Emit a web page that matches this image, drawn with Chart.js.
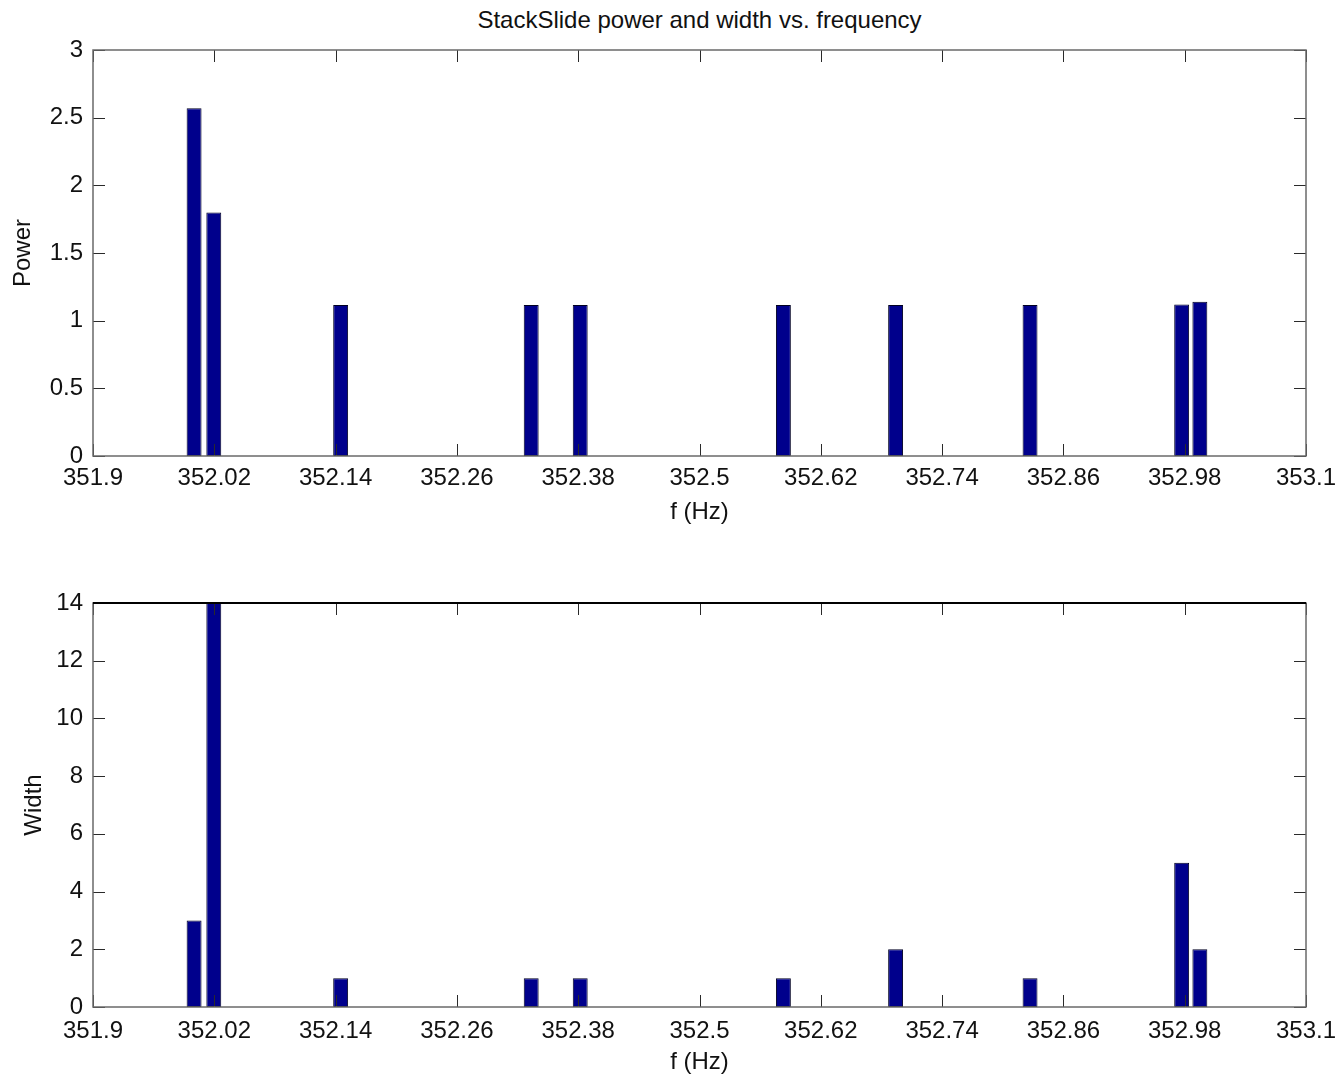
<!DOCTYPE html>
<html>
<head>
<meta charset="utf-8">
<script src="https://cdn.jsdelivr.net/npm/chart.js@4/dist/chart.umd.min.js"></script>
<style>
  html, body { margin: 0; padding: 0; background: #fff; }
  #wrap { position: relative; width: 1343px; height: 1079px; overflow: hidden; background: #fff; }
  canvas { position: absolute; left: 0; }
  #title {
    position: absolute; top: 6px; left: 93px; width: 1213px;
    text-align: center; font: 24px "Liberation Sans", Arial, sans-serif;
    line-height: 28px; color: #111;
  }
</style>
</head>
<body>
<div id="wrap">
  <div id="title">StackSlide power and width vs. frequency</div>
  <canvas id="powerChart" width="1343" height="540" style="top:0"></canvas>
  <canvas id="widthChart" width="1343" height="539" style="top:540px"></canvas>
</div>
<script>
// Candidate frequencies (Hz) and their StackSlide power / width
const freqHz = [352.000, 352.0195, 352.145, 352.3335, 352.382, 352.583, 352.694, 352.827, 352.977, 352.995];
const power  = [2.57, 1.80, 1.115, 1.115, 1.115, 1.115, 1.115, 1.115, 1.12, 1.14];
const width  = [3, 14, 1, 1, 1, 1, 2, 1, 5, 2];

// Axis ticks
const freqTicks  = [351.9, 352.02, 352.14, 352.26, 352.38, 352.5, 352.62, 352.74, 352.86, 352.98, 353.1];
const powerTicks = [0, 0.5, 1, 1.5, 2, 2.5, 3];
const widthTicks = [0, 2, 4, 6, 8, 10, 12, 14];

const FONT = { family: '"Liberation Sans", Arial, sans-serif', size: 24 };
const TEXT = '#111';

// Boxed axes with inward tick marks on all four sides
const boxedAxes = {
  id: 'boxedAxes',
  afterDatasetsDraw(chart, args, opts) {
    const { ctx, chartArea: a, scales: { x, y } } = chart;
    const len = 12;
    ctx.save();
    ctx.lineWidth = 1;
    ctx.strokeStyle = '#2a2a2a';
    ctx.beginPath();
    x.ticks.forEach(t => {
      const px = Math.round(x.getPixelForValue(t.value)) + 0.5;
      ctx.moveTo(px, a.bottom); ctx.lineTo(px, a.bottom - len);
      ctx.moveTo(px, a.top);    ctx.lineTo(px, a.top + len);
    });
    y.ticks.forEach(t => {
      const py = Math.round(y.getPixelForValue(t.value)) + 0.5;
      ctx.moveTo(a.left, py);  ctx.lineTo(a.left + len, py);
      ctx.moveTo(a.right, py); ctx.lineTo(a.right - len, py);
    });
    ctx.stroke();

    ctx.strokeStyle = opts.frameColor || '#6a6a6a';
    ctx.lineWidth = 1.5;
    ctx.strokeRect(a.left, a.top, a.right - a.left, a.bottom - a.top);
    if (opts.topColor) {
      ctx.strokeStyle = opts.topColor;
      ctx.lineWidth = 2;
      ctx.beginPath();
      ctx.moveTo(a.left, a.top); ctx.lineTo(a.right, a.top);
      ctx.stroke();
    }
    ctx.restore();
  }
};

function makeChart(canvasId, values, yTicks, yTitle, cfg) {
  return new Chart(document.getElementById(canvasId), {
    type: 'bar',
    data: {
      datasets: [{
        data: freqHz.map((f, i) => ({ x: f, y: values[i] })),
        backgroundColor: '#00008c',
        borderColor: '#000022',
        borderWidth: 1,
        borderSkipped: false,
        barPercentage: 1,
        categoryPercentage: 0.82
      }]
    },
    options: {
      responsive: false,
      animation: false,
      devicePixelRatio: 1,
      layout: { padding: { top: cfg.top, left: 0, right: 37, bottom: 0 } },
      plugins: {
        legend: { display: false },
        tooltip: { enabled: false },
        boxedAxes: { frameColor: '#6a6a6a', topColor: cfg.topColor }
      },
      scales: {
        x: {
          type: 'linear',
          min: freqTicks[0],
          max: freqTicks[freqTicks.length - 1],
          offset: false,
          grid: { display: false, drawTicks: false },
          border: { display: false },
          afterBuildTicks: s => { s.ticks = freqTicks.map(v => ({ value: v })); },
          afterFit: s => { s.height = cfg.xHeight; s.paddingLeft = 0; s.paddingRight = 0; },
          ticks: { autoSkip: false, maxRotation: 0, padding: cfg.xPad, font: FONT, color: TEXT,
                   callback: v => String(v) },
          title: { display: true, text: 'f (Hz)', font: FONT, color: TEXT,
                   padding: { top: 0, bottom: cfg.xTitlePad } }
        },
        y: {
          min: yTicks[0],
          max: yTicks[yTicks.length - 1],
          grid: { display: false, drawTicks: false },
          border: { display: false },
          afterBuildTicks: s => { s.ticks = yTicks.map(v => ({ value: v })); },
          afterFit: s => { s.width = 93; s.paddingTop = 0; s.paddingBottom = 0; },
          ticks: { padding: 10, font: FONT, color: TEXT, callback: v => String(v) },
          title: { display: true, text: yTitle, font: FONT, color: TEXT,
                   padding: { top: cfg.yTitlePad, bottom: 0 } }
        }
      }
    },
    plugins: [boxedAxes]
  });
}

makeChart('powerChart', power, powerTicks, 'Power',
  { top: 50, xHeight: 84, xPad: 8, xTitlePad: 13, yTitlePad: 9 });
makeChart('widthChart', width, widthTicks, 'Width',
  { top: 63, xHeight: 72, xPad: 10, xTitlePad: 2, yTitlePad: 20, topColor: '#000' });
</script>
</body>
</html>
